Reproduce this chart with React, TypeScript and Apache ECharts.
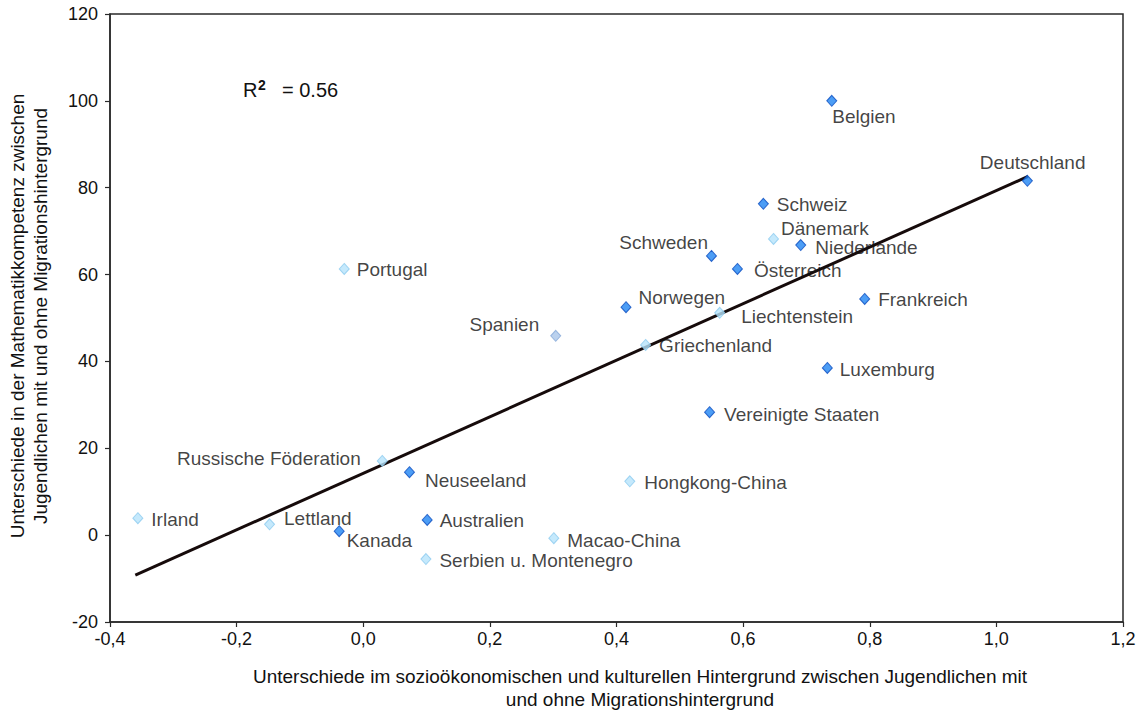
import React, { useEffect, useRef } from "react";
import * as echarts from "echarts";

// Countries and the two gaps (socio-economic/cultural background, maths competence)
const countries = [
  "Belgien", "Deutschland", "Schweiz", "Dänemark", "Niederlande", "Schweden",
  "Österreich", "Portugal", "Frankreich", "Norwegen", "Liechtenstein", "Spanien",
  "Griechenland", "Luxemburg", "Vereinigte Staaten", "Russische Föderation",
  "Neuseeland", "Hongkong-China", "Irland", "Lettland", "Kanada", "Australien",
  "Macao-China", "Serbien u. Montenegro",
];
const backgroundGap = [
  0.740, 1.049, 0.632, 0.648, 0.691, 0.550,
  0.591, -0.030, 0.792, 0.415, 0.563, 0.304,
  0.446, 0.733, 0.547, 0.030,
  0.073, 0.421, -0.356, -0.148, -0.038, 0.101,
  0.301, 0.099,
];
const mathGap = [
  100.0, 81.6, 76.3, 68.2, 66.8, 64.3,
  61.3, 61.3, 54.4, 52.5, 51.2, 45.9,
  43.8, 38.5, 28.3, 17.1,
  14.5, 12.4, 3.9, 2.5, 0.9, 3.5,
  -0.7, -5.5,
];
// marker tone per country: strong, pale, muted
const tones = [
  "strong", "strong", "strong", "pale", "strong", "strong",
  "strong", "pale", "strong", "strong", "pale", "muted",
  "pale", "strong", "strong", "pale",
  "strong", "pale", "pale", "pale", "strong", "strong",
  "pale", "pale",
];
// fitted regression line end points
const trendX = [-0.36, 1.05];
const trendY = [-9.2, 82.6];
const rSquared = "0.56";

const xTicks = { min: -0.4, max: 1.2, step: 0.2 };
const yTicks = { min: -20, max: 120, step: 20 };

const FONT = "'Liberation Sans', Arial, Helvetica, sans-serif";
const INK = "#111111";

const toneStyle: Record<string, { color: string; borderColor: string }> = {
  strong: { color: "#1f84f2", borderColor: "#0b4cbf" },
  pale: { color: "#b6e3fb", borderColor: "#8ccbef" },
  muted: { color: "#a9c6ea", borderColor: "#86a9d8" },
};

// where each country's name sits next to its marker
const labelPlace: Record<string, { side: "left" | "right"; dx: number; dy: number }> = {
  "Belgien": { side: "right", dx: -10, dy: 16 },
  "Deutschland": { side: "right", dx: -58, dy: -18 },
  "Schweiz": { side: "right", dx: 3, dy: 1 },
  "Dänemark": { side: "right", dx: -3, dy: -10 },
  "Niederlande": { side: "right", dx: 4, dy: 2 },
  "Schweden": { side: "left", dx: 7, dy: -13 },
  "Österreich": { side: "right", dx: 6, dy: 2 },
  "Portugal": { side: "right", dx: 2, dy: 1 },
  "Frankreich": { side: "right", dx: 3, dy: 1 },
  "Norwegen": { side: "right", dx: 2, dy: -10 },
  "Liechtenstein": { side: "right", dx: 11, dy: 4 },
  "Spanien": { side: "left", dx: -6, dy: -11 },
  "Griechenland": { side: "right", dx: 3, dy: 1 },
  "Luxemburg": { side: "right", dx: 2, dy: 2 },
  "Vereinigte Staaten": { side: "right", dx: 4, dy: 2 },
  "Russische Föderation": { side: "left", dx: -11, dy: -2 },
  "Neuseeland": { side: "right", dx: 5, dy: 8 },
  "Hongkong-China": { side: "right", dx: 4, dy: 1 },
  "Irland": { side: "right", dx: 3, dy: 1 },
  "Lettland": { side: "right", dx: 4, dy: -6 },
  "Kanada": { side: "right", dx: -3, dy: 9 },
  "Australien": { side: "right", dx: 2, dy: 1 },
  "Macao-China": { side: "right", dx: 3, dy: 2 },
  "Serbien u. Montenegro": { side: "right", dx: 3, dy: 1 },
};

const commaDecimal = (v: number) => v.toFixed(1).replace(".", ",");

export default function App() {
  const ref = useRef<HTMLDivElement>(null);

  useEffect(() => {
    if (!ref.current) return;
    const chart = echarts.init(ref.current, undefined, { renderer: "svg" });

    const points = countries.map((name, i) => {
      const place = labelPlace[name];
      const style = toneStyle[tones[i]];
      return {
        name,
        value: [backgroundGap[i], mathGap[i]],
        itemStyle: { color: style.color, borderColor: style.borderColor, borderWidth: 1 },
        label: { position: place.side },
      };
    });

    const axisCommon = {
      axisLine: { show: true, onZero: false, lineStyle: { color: "#2a2a2a", width: 1.5 } },
      axisTick: { show: true, inside: false, length: 5, lineStyle: { color: "#2a2a2a", width: 1.2 } },
      splitLine: { show: false },
      axisLabel: { color: INK, fontSize: 18, fontFamily: FONT },
    };

    const titleStyle = {
      fontSize: 19,
      fontFamily: FONT,
      fill: INK,
      textAlign: "center",
      textVerticalAlign: "middle",
    };

    chart.setOption({
      animation: false,
      backgroundColor: "#ffffff",
      textStyle: { fontFamily: FONT },
      grid: {
        left: 110,
        right: 19,
        top: 14,
        bottom: 90,
        show: true,
        borderColor: "#2a2a2a",
        borderWidth: 1.5,
        backgroundColor: "transparent",
      },
      xAxis: {
        type: "value",
        min: xTicks.min,
        max: xTicks.max,
        interval: xTicks.step,
        ...axisCommon,
        axisLabel: { ...axisCommon.axisLabel, margin: 8, formatter: commaDecimal },
      },
      yAxis: {
        type: "value",
        min: yTicks.min,
        max: yTicks.max,
        interval: yTicks.step,
        ...axisCommon,
        axisLabel: { ...axisCommon.axisLabel, margin: 12 },
      },
      series: [
        {
          type: "line",
          data: trendX.map((x, i) => [x, trendY[i]]),
          symbol: "none",
          lineStyle: { color: "#160b0b", width: 3 },
          z: 1,
          silent: true,
        },
        {
          type: "scatter",
          symbol: "diamond",
          symbolSize: [10, 11],
          data: points,
          z: 3,
          label: {
            show: true,
            formatter: "{b}",
            color: INK,
            fontSize: 19,
            fontFamily: FONT,
            distance: 5,
          },
          labelLayout: (params: any) => {
            const place = labelPlace[countries[params.dataIndex]];
            return { dx: place.dx, dy: place.dy, hideOverlap: false };
          },
        },
      ],
      graphic: [
        {
          type: "text",
          x: 243,
          y: 90,
          style: { text: "R", fontSize: 20, fontFamily: FONT, fill: INK, textVerticalAlign: "middle" },
        },
        {
          type: "text",
          x: 258,
          y: 85,
          style: { text: "2", fontSize: 14, fontWeight: "bold", fontFamily: FONT, fill: INK, textVerticalAlign: "middle" },
        },
        {
          type: "text",
          x: 282,
          y: 90,
          style: { text: "= " + rSquared, fontSize: 20, fontFamily: FONT, fill: INK, textVerticalAlign: "middle" },
        },
        {
          type: "text",
          x: 17,
          y: 316,
          rotation: Math.PI / 2,
          style: { ...titleStyle, text: "Unterschiede in der Mathematikkompetenz zwischen" },
        },
        {
          type: "text",
          x: 40,
          y: 316,
          rotation: Math.PI / 2,
          style: { ...titleStyle, text: "Jugendlichen mit und ohne Migrationshintergrund" },
        },
        {
          type: "text",
          x: 640,
          y: 676,
          style: {
            ...titleStyle,
            text: "Unterschiede im sozioökonomischen und kulturellen Hintergrund zwischen Jugendlichen mit",
          },
        },
        {
          type: "text",
          x: 640,
          y: 699,
          style: { ...titleStyle, text: "und ohne Migrationshintergrund" },
        },
      ],
    });

    return () => chart.dispose();
  }, []);

  return (
    <div
      ref={ref}
      style={{ position: "fixed", left: 0, top: 0, width: 1142, height: 712, background: "#fff" }}
    />
  );
}
